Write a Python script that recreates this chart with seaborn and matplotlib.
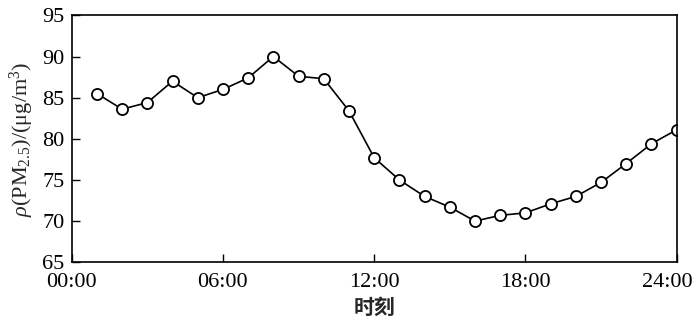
import matplotlib
matplotlib.use("Agg")
import matplotlib.pyplot as plt
import matplotlib.transforms as mtransforms
import seaborn as sns
import pandas as pd

hours = list(range(1, 25))
pm25 = [85.5, 83.6, 84.4, 87.0, 85.0, 86.0, 87.4, 90.0, 87.6, 87.3, 83.4, 77.7,
        75.0, 73.0, 71.7, 70.0, 70.7, 71.0, 72.1, 73.0, 74.7, 77.0, 79.4, 81.1]
xticks = [0, 6, 12, 18, 24]
xticklabels = ["00:00", "06:00", "12:00", "18:00", "24:00"]
yticks = [65, 70, 75, 80, 85, 90, 95]

sns.set_theme(style="ticks")
plt.rcParams['font.family'] = ['Liberation Serif', 'Noto Sans CJK SC']
plt.rcParams['mathtext.fontset'] = 'custom'
plt.rcParams['mathtext.rm'] = 'Liberation Serif'
plt.rcParams['mathtext.it'] = 'Liberation Serif:italic'

df = pd.DataFrame({"hour": hours, "pm": pm25})

fig = plt.figure(figsize=(7, 3.27), dpi=100)
ax = fig.add_axes([0.1024, 0.198, 0.8643, 0.755])
sns.lineplot(data=df, x="hour", y="pm", ax=ax, color="black", linewidth=1.2,
             marker="o", markersize=8, markerfacecolor="white",
             markeredgecolor="black", markeredgewidth=1.3)
ax.set_xlim(0, 24)
ax.set_ylim(65, 95)
ax.set_xticks(xticks)
ax.set_xticklabels(xticklabels)
ax.set_yticks(yticks)
ax.tick_params(direction="in", length=6, width=1, labelsize=16, colors="black")
ax.tick_params(axis="x", pad=8)
ax.tick_params(axis="y", pad=5)
last = ax.get_xticklabels()[-1]
last.set_transform(last.get_transform() +
                   mtransforms.ScaledTranslation(-0.09, 0, fig.dpi_scale_trans))
for s in ax.spines.values():
    s.set_linewidth(1.2)
    s.set_color("black")
    s.set_visible(True)
ax.set_xlabel("时刻", fontsize=15, family=['Noto Sans CJK SC'], fontweight="bold", labelpad=3)
ax.set_ylabel(r"$\it{\rho}$(PM$_{2.5}$)/(μg/m$^3$)", fontsize=16, labelpad=5)
fig.savefig("out.png", dpi=100)
